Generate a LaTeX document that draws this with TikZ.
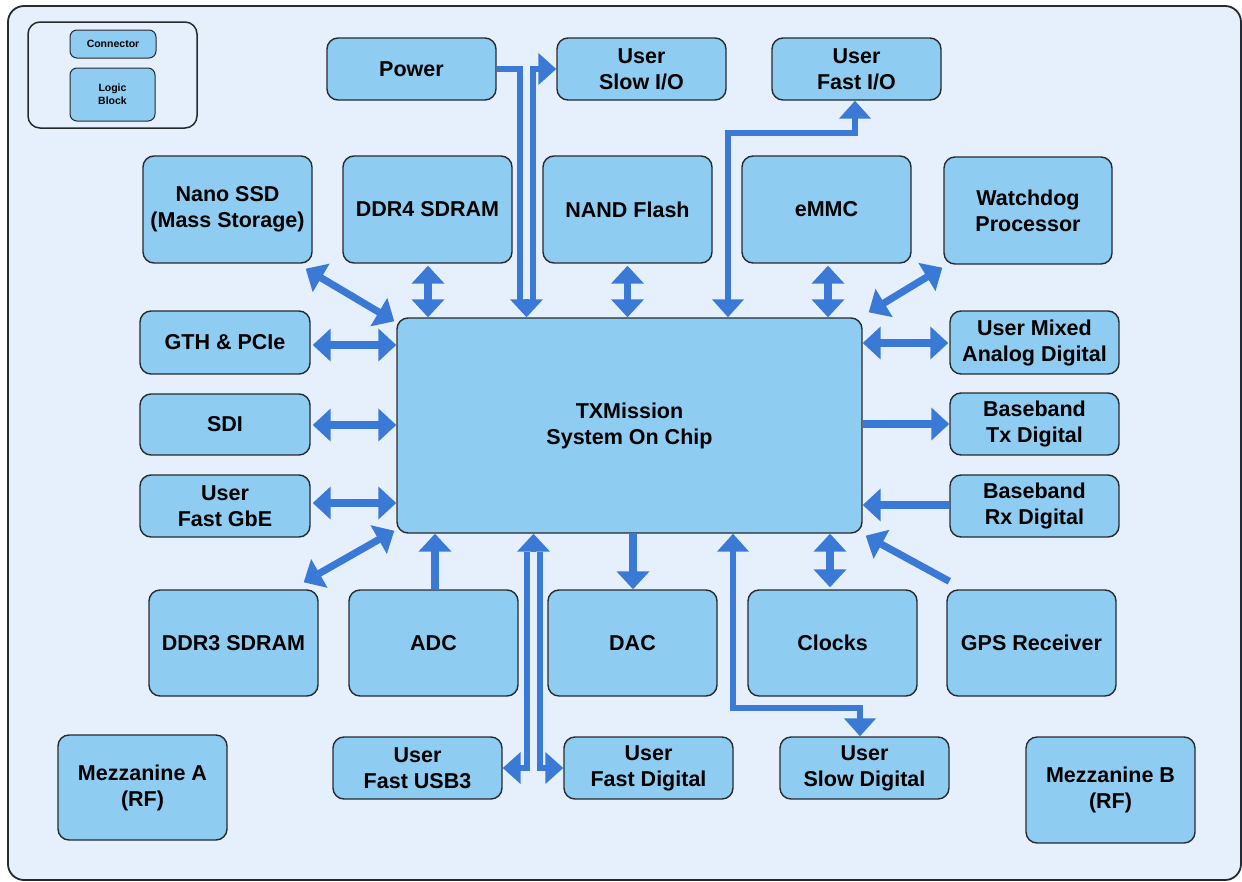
\documentclass[tikz,border=0pt]{standalone}
\usepackage{fontspec}
\setmainfont{Liberation Sans}
\usetikzlibrary{arrows.meta,calc}
\definecolor{pagebg}{RGB}{229,240,252}
\definecolor{boxfill}{RGB}{142,204,242}
\definecolor{boxline}{RGB}{38,42,46}
\definecolor{flow}{RGB}{58,122,214}
\tikzset{
  blk/.style={draw=boxline, line width=1.4pt, fill=boxfill, rounded corners=11pt,
    align=center, inner sep=0pt, font=\bfseries\fontsize{21.5}{26}\selectfont},
  keyblk/.style={draw=boxline, line width=1pt, fill=boxfill, rounded corners=7pt,
    align=center, inner sep=0pt, font=\bfseries\fontsize{10.5}{13}\selectfont},
  head/.tip={Triangle[width=32pt,length=18pt]},
  whead/.tip={Triangle[width=31pt,length=18pt]},
  link/.style={draw=flow, line width=7.2pt},
  both/.style={link, head-head},
  one/.style={link, -head},
  wire/.style={draw=flow, line width=5.5pt, line join=miter},
  wboth/.style={wire, whead-whead},
  wone/.style={wire, -whead},
  tiponly/.style={draw=flow, line width=5pt, -{Triangle[width=32pt,length=18pt]}},
}
\begin{document}
\begin{tikzpicture}[x=1pt,y=-1pt]
\useasboundingbox (0,0) rectangle (1242,881);
\fill[white] (0,0) rectangle (1242,881);
% outer frame
\draw[draw=boxline, line width=1.8pt, fill=pagebg, rounded corners=16pt] (8,6) rectangle (1241,880);

% key
\draw[draw=boxline, line width=1.5pt, rounded corners=12pt] (28,22) rectangle (197,128);
\node[keyblk, minimum width=86pt, minimum height=28pt] (kconn) at (113,44) {Connector};
\node[keyblk, minimum width=85pt, minimum height=53pt] (klogic) at (112.5,94.5) {Logic\\Block};

% top connectors row
\node[blk, minimum width=169pt, minimum height=62pt] (power) at (411.5,69) {Power};
\node[blk, minimum width=169pt, minimum height=62pt] (slowio) at (641.5,69) {User\\Slow I/O};
\node[blk, minimum width=169pt, minimum height=62pt] (fastio) at (856.5,69) {User\\Fast I/O};

% upper logic blocks
\node[blk, minimum width=169pt, minimum height=107pt] (nano) at (227.5,209.5) {Nano SSD\\(Mass Storage)};
\node[blk, minimum width=169pt, minimum height=107pt] (ddr4) at (427.5,209.5) {DDR4 SDRAM};
\node[blk, minimum width=169pt, minimum height=107pt] (nand) at (627.5,209.5) {NAND Flash};
\node[blk, minimum width=169pt, minimum height=107pt] (emmc) at (826.5,209.5) {eMMC};
\node[blk, minimum width=168pt, minimum height=107pt] (wdog) at (1028,210.5) {Watchdog\\Processor};

% system on chip
\node[blk, minimum width=465pt, minimum height=215pt] (soc) at (629.5,425.5) {TXMission\\System On Chip};

% left connectors
\node[blk, minimum width=170pt, minimum height=63pt] (gth) at (225,342.5) {GTH \& PCIe};
\node[blk, minimum width=170pt, minimum height=61pt] (sdi) at (225,424.5) {SDI};
\node[blk, minimum width=170pt, minimum height=62pt] (gbe) at (225,506) {User\\Fast GbE};

% right connectors
\node[blk, minimum width=169pt, minimum height=63pt] (mixed) at (1034.5,342.5) {User Mixed\\Analog Digital};
\node[blk, minimum width=169pt, minimum height=62pt] (tx) at (1034.5,424) {Baseband\\Tx Digital};
\node[blk, minimum width=169pt, minimum height=62pt] (rx) at (1034.5,506) {Baseband\\Rx Digital};

% lower logic blocks
\node[blk, minimum width=169pt, minimum height=106pt] (ddr3) at (233.5,643) {DDR3 SDRAM};
\node[blk, minimum width=169pt, minimum height=106pt] (adc) at (433.5,643) {ADC};
\node[blk, minimum width=169pt, minimum height=106pt] (dac) at (632.5,643) {DAC};
\node[blk, minimum width=169pt, minimum height=106pt] (clocks) at (832.5,643) {Clocks};
\node[blk, minimum width=169pt, minimum height=106pt] (gps) at (1031.5,643) {GPS Receiver};

% bottom row
\node[blk, minimum width=169pt, minimum height=105pt] (mezza) at (142.5,787.5) {Mezzanine A\\(RF)};
\node[blk, minimum width=169pt, minimum height=62pt] (usb3) at (417.5,768) {User\\Fast USB3};
\node[blk, minimum width=169pt, minimum height=62pt] (fdig) at (648.5,768) {User\\Fast Digital};
\node[blk, minimum width=169pt, minimum height=62pt] (sdig) at (864.5,768) {User\\Slow Digital};
\node[blk, minimum width=169pt, minimum height=106pt] (mezzb) at (1110.5,790) {Mezzanine B\\(RF)};

% link end points next to the blocks
\coordinate (eNano) at ($(nano.south east)+(-7,5)$);
\coordinate (eDdr4) at ($(ddr4.south)+(0.5,2)$);
\coordinate (eNand) at ($(nand.south)+(0,2)$);
\coordinate (eEmmc) at ($(emmc.south)+(1.5,2)$);
\coordinate (eWdog) at ($(wdog.south west)+(-1,3)$);
\coordinate (eGth) at ($(gth.east)+(2,2.5)$);
\coordinate (eSdi) at ($(sdi.east)+(2,0.5)$);
\coordinate (eGbe) at ($(gbe.east)+(2,-3)$);
\coordinate (eMix) at ($(mixed.west)+(-1,0.5)$);
\coordinate (eTx) at ($(tx.west)+(0,0)$);
\coordinate (eRx) at ($(rx.west)+(0,-1)$);
\coordinate (eGps) at ($(gps.north west)+(3,-8)$);
\coordinate (eDdr3) at ($(ddr3.north east)+(-15,-7)$);
\coordinate (eAdc) at ($(adc.north)+(1.5,0)$);
\coordinate (eDac) at ($(dac.north)+(0.5,0)$);
\coordinate (eClk) at ($(clocks.north)+(-2.5,-2)$);

% straight links around the SoC
\draw[both] (eNano) -- ($(soc.north west)+(-2,4)$);
\draw[both] (eDdr4) -- (eDdr4 |- soc.north);
\draw[both] (eNand) -- (eNand |- soc.north);
\draw[both] (eEmmc) -- (eEmmc |- soc.north);
\draw[both] (eWdog) -- ($(soc.north east)+(6,-5)$);

\draw[both] (eGth) -- (eGth -| soc.west);
\draw[both] (eSdi) -- (eSdi -| soc.west);
\draw[both] (eGbe) -- (eGbe -| soc.west);

\draw[both] (eMix) -- (eMix -| soc.east);
\draw[one] (eTx -| soc.east) -- (eTx);
\draw[one] (eRx) -- (eRx -| soc.east);
\draw[one] (eGps) -- ($(soc.south east)+(3,2)$);

\draw[both] ($(soc.south west)+(-2,-3)$) -- (eDdr3);
\draw[one] (eAdc) -- (eAdc |- soc.south);
\draw[one] (eDac |- soc.south) -- (eDac);
\draw[both] (eClk) -- (eClk |- soc.south);

% power in, slow I/O out
\coordinate (pwA) at (520,69);
\coordinate (pwB) at (520,302);
\coordinate (soA) at (533,302);
\coordinate (soB) at (533,69);
\coordinate (pwT) at (526.5,299);
\draw[wire] (power.east) -- (pwA) -- (pwB);
\draw[wone] (soA) -- (soB) -- (slowio.west);
\draw[tiponly] (pwT) -- (pwT |- soc.north);

% fast I/O
\coordinate (fiA) at (728,133);
\coordinate (fiB) at (855,133);
\draw[wboth] (fiA |- soc.north) -- (fiA) -- (fiB) -- (fiB |- fastio.south);

% slow digital
\coordinate (sdA) at (733,708);
\coordinate (sdB) at (860,708);
\draw[wboth] (sdA |- soc.south) -- (sdA) -- (sdB) -- (sdB |- sdig.north);

% fast USB3 and fast digital
\coordinate (usA) at (527,552);
\coordinate (usB) at (527,768);
\coordinate (fdA) at (540,552);
\coordinate (fdB) at (540,768);
\coordinate (usT) at (533.5,552);
\draw[wone] (usA) -- (usB) -- (usb3.east);
\draw[wone] (fdA) -- (fdB) -- (fdig.west);
\draw[tiponly] (usT) -- (usT |- soc.south);
\end{tikzpicture}
\end{document}
